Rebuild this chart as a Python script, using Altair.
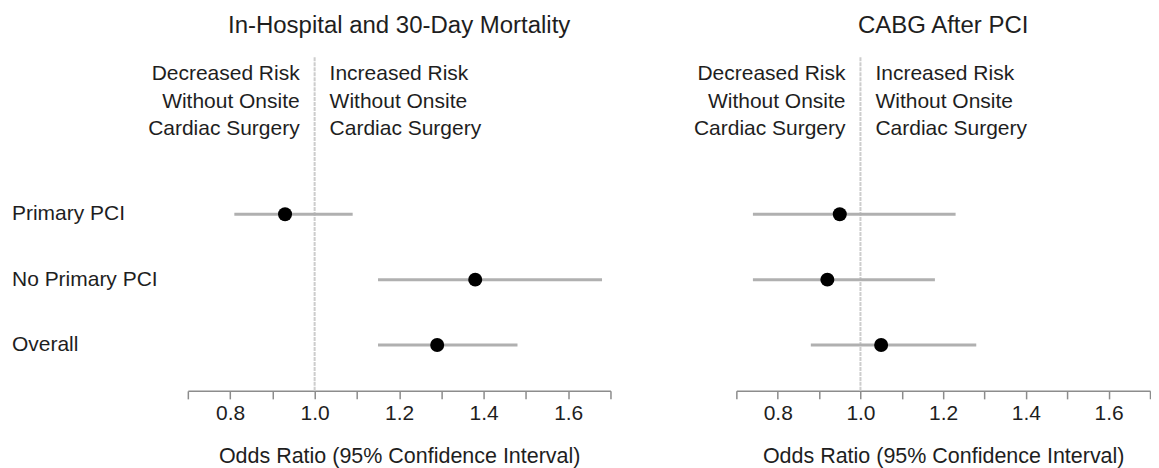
import altair as alt
import pandas as pd

FONT = "Liberation Sans"
TEXT_COLOR = "#1e1e1e"

rows = ["Primary PCI", "No Primary PCI", "Overall"]
row_pos = [1, 2, 3]

mort_or = [0.93, 1.38, 1.29]
mort_lo = [0.81, 1.15, 1.15]
mort_hi = [1.09, 1.68, 1.48]

cabg_or = [0.95, 0.92, 1.05]
cabg_lo = [0.74, 0.74, 0.88]
cabg_hi = [1.23, 1.18, 1.28]

panel_titles = ["In-Hospital and 30-Day Mortality", "CABG After PCI"]
left_note = "Decreased Risk\nWithout Onsite\nCardiac Surgery"
right_note = "Increased Risk\nWithout Onsite\nCardiac Surgery"
x_title = "Odds Ratio (95% Confidence Interval)"
ref_value = 1.0
x_domain = [0.7, 1.7]
y_domain = [-1.40, 3.70]
tick_values = [0.7, 0.8, 0.9, 1.0, 1.1, 1.2, 1.3, 1.4, 1.5, 1.6, 1.7]

H = 334

label_expr = ("(datum.value > 0.75 && datum.value < 1.65 && "
              "abs(round(datum.value * 10) % 2) == 0) ? format(datum.value, '.1f') : ''")


def panel(ors, los, his, title, show_y, W):
    df = pd.DataFrame({"row": rows, "pos": row_pos, "or": ors, "lo": los, "hi": his})
    x_scale = alt.Scale(domain=x_domain, nice=False, zero=False)
    y_scale = alt.Scale(domain=y_domain, nice=False, zero=False, reverse=True)
    x_axis = alt.Axis(
        values=tick_values, labelExpr=label_expr, title=x_title, grid=False,
        domainColor="#8c8c8c", domainWidth=1.5, tickColor="#8c8c8c", tickWidth=1.5,
        tickSize=8, labelFontSize=21, labelFont=FONT, labelColor=TEXT_COLOR,
        labelPadding=4, labelOverlap=False, labelFlush=False,
        titleFontSize=21.5, titleFont=FONT, titleFontWeight="normal",
        titleColor=TEXT_COLOR, titlePadding=22,
    )
    y_enc = alt.Y("pos:Q", scale=y_scale, axis=None)

    ref_df = pd.DataFrame({"x": [ref_value]})
    ref = alt.Chart(ref_df).mark_rule(color="#cdcdcd", strokeWidth=2, strokeDash=[4, 1]).encode(
        x=alt.X("x:Q", scale=x_scale, axis=x_axis)
    )
    notes_l = alt.Chart(pd.DataFrame({"x": [ref_value], "t": [left_note]})).mark_text(
        align="right", dx=-15, baseline="middle", lineBreak="\n", lineHeight=27.5,
        fontSize=21, font=FONT, color=TEXT_COLOR,
    ).encode(x=alt.X("x:Q", scale=x_scale, axis=x_axis), y=alt.value(17), text="t:N")
    notes_r = alt.Chart(pd.DataFrame({"x": [ref_value], "t": [right_note]})).mark_text(
        align="left", dx=15, baseline="middle", lineBreak="\n", lineHeight=27.5,
        fontSize=21, font=FONT, color=TEXT_COLOR,
    ).encode(x=alt.X("x:Q", scale=x_scale, axis=x_axis), y=alt.value(17), text="t:N")

    title_df = pd.DataFrame({"t": [title]})
    title_mark = alt.Chart(title_df).mark_text(
        align="center", baseline="top", fontSize=24, font=FONT, color=TEXT_COLOR,
    ).encode(x=alt.value(W / 2), y=alt.value(-43), text="t:N")

    base = alt.Chart(df)
    bars = base.mark_rule(color="#b0b0b0", strokeWidth=3).encode(
        x=alt.X("lo:Q", scale=x_scale, axis=x_axis), x2="hi:Q", y=y_enc
    )
    pts = base.mark_circle(size=196, color="black", opacity=1).encode(
        x=alt.X("or:Q", scale=x_scale, axis=x_axis), y=y_enc
    )
    layers = [ref, notes_l, notes_r, title_mark, bars, pts]
    if show_y:
        ylabels = base.mark_text(
            align="left", baseline="middle", fontSize=21, font=FONT, color=TEXT_COLOR,
        ).encode(x=alt.value(-176), y=y_enc, text="row:N")
        layers.append(ylabels)
    return alt.layer(*layers).properties(width=W, height=H)


left = panel(mort_or, mort_lo, mort_hi, panel_titles[0], True, 423)
right = panel(cabg_or, cabg_lo, cabg_hi, panel_titles[1], False, 414)

chart = alt.hconcat(left, right, spacing=82).properties(
    padding={"left": 4, "top": 6, "right": 0, "bottom": 0},
    background="white",
).configure_view(strokeWidth=0)

chart.save("out.html", embed_options={"renderer": "svg", "actions": False})
